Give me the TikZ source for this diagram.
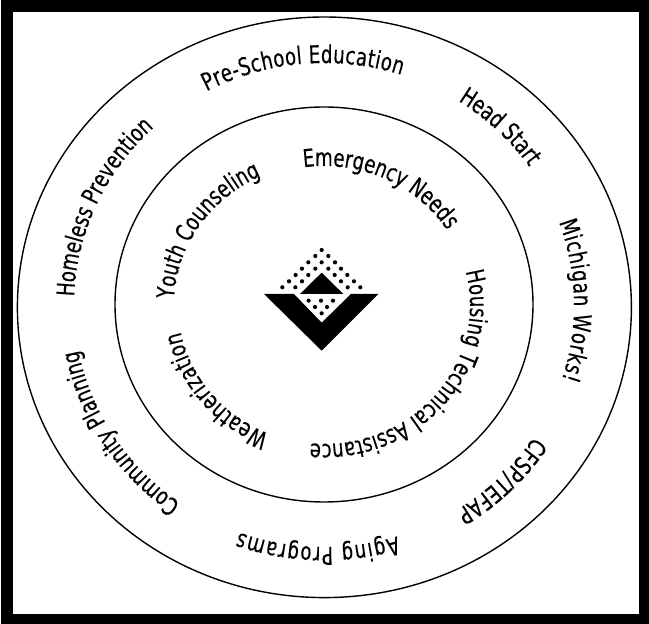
\documentclass[tikz,border=0pt]{standalone}
\usepackage{fontspec}
\usetikzlibrary{decorations.text}
\newfontfamily\ringfont[FakeStretch=0.74,FakeBold=0.3]{DejaVu Sans}
\newcommand{\ringtext}[5]{%
  \pgfmathsetmacro{\ringend}{#4-24/#2*57.3}%
  \path[decorate,decoration={text along path,text align=fit to path,
    text={|\ringfont\fontsize{24.5}{25}\selectfont|#5{\rule{24pt}{0pt}}}}]
    ({324+#1*cos(#3)},{319+#2*sin(#3)}) arc[x radius=#1,y radius=#2,start angle=#3,end angle=\ringend];}
\tikzset{ring/.style={draw=black,line width=1.4pt}}
\begin{document}
\begin{tikzpicture}[x=1pt,y=1pt]
\useasboundingbox (0,0) rectangle (649,624);
\fill[white] (0,0) rectangle (649,624);
\fill[black] (1,0) rectangle (649,624);
\fill[white] (13,10) rectangle (639,612);
\draw[ring] (324.4,316.7) ellipse [x radius=307,y radius=290.3];
\draw[ring] (324,319.5) ellipse [x radius=209,y radius=197.5];
% outer ring
\ringtext{250}{242}{118}{72}{Pre-School Education}
\ringtext{250}{242}{57.5}{38.5}{Head Start}
\ringtext{250}{242}{20}{-18}{Michigan Works!}
\ringtext{250}{242}{-33}{-56}{CFSP/TEFAP}
\ringtext{250}{242}{-73}{-110}{Aging Programs}
\ringtext{250}{242}{-125}{-168}{Community Planning}
\ringtext{250}{242}{178}{133}{Homeless Prevention}
% inner ring
\ringtext{146}{139}{98}{33}{Emergency Needs}
\ringtext{146}{139}{14}{-95}{Housing Technical Assistance}
\ringtext{146}{139}{-112}{-169}{Weatherization}
\ringtext{150}{142}{177.5}{116}{Youth Counseling}
% logo
\begin{scope}[shift={(240,394)},x=0.3333pt,y=-0.3333pt]
\fill[black] (72,192) -- (162,192) -- (245,278) -- (333,192) -- (415,192) -- (245,362) -- cycle;
\fill[black] (245,128) -- (310,192) -- (180,192) -- cycle;
\foreach \p in {(245,60),(226,78),(265,78),(205,97),(245,97),(285,97),(186,116),(226,116),(265,116),(303,116),(167,135),(205,135),(284,135),(322,135),(147,154),(186,154),(303,154),(342,154),(127,172),(166,172),(323,172),(361,172),(206,212),(243,212),(279,212),(225,231),(261,231),(245,250)}
  \fill[black] \p circle[radius=2.1pt];
\end{scope}
\end{tikzpicture}
\end{document}
